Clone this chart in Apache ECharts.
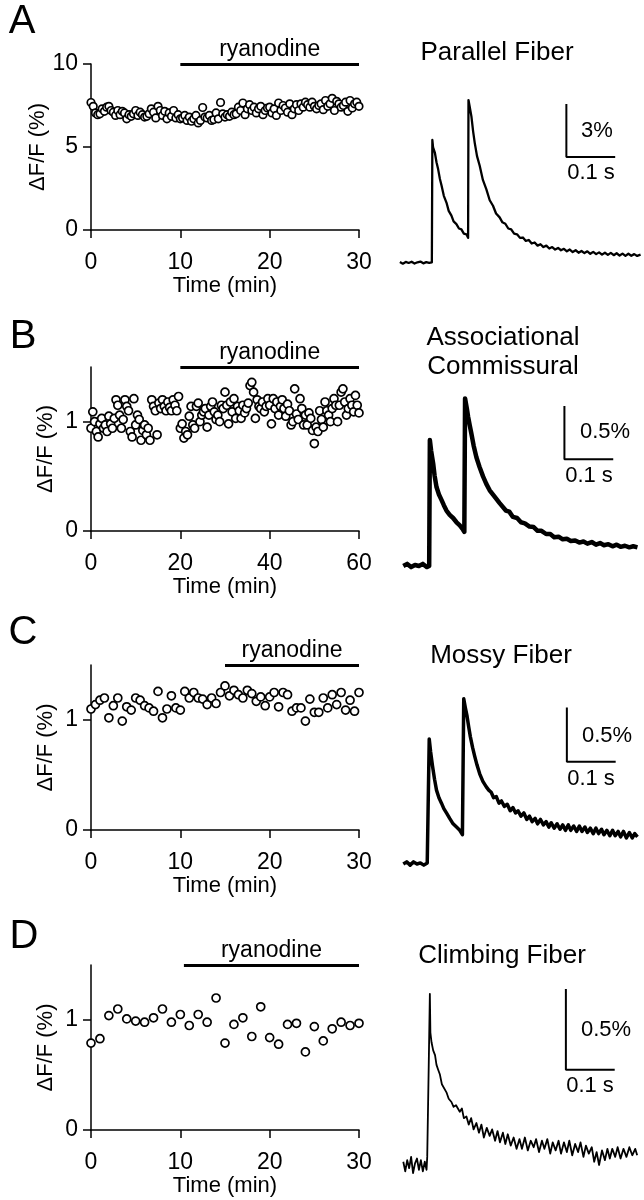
<!DOCTYPE html>
<html>
<head>
<meta charset="utf-8">
<script src="https://cdn.jsdelivr.net/npm/echarts@6/dist/echarts.min.js"></script>
<style>
  html, body { margin: 0; padding: 0; background: #fff; }
  #main { width: 644px; height: 1200px; }
</style>
</head>
<body>
<div id="main"></div>
<script>
const FONT = '"Liberation Sans", Arial, Helvetica, sans-serif';

// time course, dF/F (%) sampled every dt minutes
const dtA = 0.25;
const valuesA = [
  7.68, 7.45, 7.05, 6.95, 7.0, 7.3, 7.15, 7.4, 7.45, 7.2, 7.1, 6.9,
  7.2, 6.95, 7.15, 7.05, 6.7, 6.95, 6.85, 7.0, 7.2, 6.9, 7.1, 6.95,
  6.8, 6.85, 7.0, 7.3, 7.1, 6.75, 7.45, 7.2, 6.9, 7.15, 6.7, 7.05,
  6.85, 7.2, 6.75, 6.95, 6.7, 6.75, 6.9, 6.6, 6.8, 6.55, 6.7, 6.9,
  6.45, 6.6, 7.38, 6.8, 6.75, 6.9, 6.6, 6.65, 7.05, 6.7, 7.68, 7.0,
  6.8, 6.95, 6.85, 7.1, 6.95, 7.0, 7.4, 7.2, 7.65, 6.95, 7.3, 7.55,
  7.2, 7.4, 7.05, 7.3, 7.45, 6.95, 7.2, 7.35, 7.4, 7.05, 7.3, 6.9,
  7.65, 7.2, 7.5, 7.35, 7.1, 7.6, 6.95, 7.3, 7.55, 7.2, 7.6, 7.4,
  7.7, 7.55, 7.4, 7.7, 7.45, 7.3, 7.5, 7.6, 7.25, 7.8, 7.45, 7.6,
  7.93, 7.2, 7.75, 7.6, 7.4, 7.5, 7.7, 7.15, 7.8, 7.35, 7.6, 7.7,
  7.45
];

const dtB = 0.4;
const valuesB = [
  0.94, 1.09, 1.0, 0.91, 0.86, 0.98, 1.03, 0.94, 0.97, 0.91, 1.05, 0.98, 0.94,
  1.03, 1.2, 1.15, 1.06, 0.94, 1.02, 1.2, 1.14, 1.1, 0.91, 0.86, 1.21,
  0.97, 1.06, 1.02, 0.83, 0.92, 0.97, 0.88, 0.94, 0.83, 1.2, 1.14, 1.1, 0.88,
  1.17, 1.12, 1.2, 1.14, 1.1, 1.18, 1.13, 1.1, 1.2, 1.15, 1.1, 1.23,
  0.94, 0.98, 0.85, 0.91, 0.88, 1.05, 1.14, 0.97, 0.94, 1.14, 1.17, 1.0, 1.06,
  1.09, 1.12, 0.95, 1.06, 1.14, 1.18, 1.09, 1.02, 1.06, 1.0, 1.15, 1.12,
  1.27, 1.15, 0.98, 1.18, 1.09, 1.21, 1.03, 1.14, 1.1, 1.03, 1.15, 1.08, 1.12,
  1.17, 1.33, 1.36, 1.27, 1.03, 1.2, 1.14, 1.12, 1.18, 1.09, 1.14, 1.21,
  1.15, 0.98, 1.21, 1.12, 1.18, 1.06, 1.14, 1.2, 1.12, 1.05, 1.16, 1.1, 0.97,
  1.0, 1.3, 1.07, 1.02, 1.21, 1.12, 0.97, 1.06, 0.97, 1.08, 1.03, 0.92,
  0.8, 0.95, 0.91, 1.1, 1.02, 0.95, 1.18, 1.1, 1.06, 1.0, 1.12, 1.21, 1.15,
  1.0, 1.15, 1.27, 1.3, 1.18, 1.06, 1.12, 1.21, 1.15, 1.09, 1.24, 1.15, 1.08
];

const dtC = 0.5;
const valuesC = [
  1.10, 1.14, 1.18, 1.20, 1.02, 1.13, 1.20, 0.99, 1.12, 1.09,
  1.20, 1.18, 1.13, 1.11, 1.08, 1.26, 1.02, 1.10, 1.22, 1.11,
  1.09, 1.26, 1.20, 1.25, 1.20, 1.19, 1.14, 1.20, 1.15, 1.25,
  1.31, 1.22, 1.27, 1.23, 1.20, 1.27, 1.24, 1.17, 1.21, 1.13,
  1.21, 1.25, 1.12, 1.25, 1.23, 1.08, 1.11, 1.11, 0.99, 1.19,
  1.07, 1.07, 1.20, 1.11, 1.23, 1.14, 1.25, 1.09, 1.18, 1.08,
  1.25
];

const dtD = 1;
const valuesD = [
  0.79, 0.83, 1.04, 1.10, 1.01, 0.99, 0.98, 1.02, 1.10, 0.98,
  1.05, 0.95, 1.05, 0.98, 1.20, 0.79, 0.96, 1.02, 0.85, 1.12,
  0.84, 0.78, 0.96, 0.97, 0.71, 0.94, 0.81, 0.92, 0.98, 0.95,
  0.97
];

const timeMax = [30, 60, 30, 30];
const timeStep = [10, 20, 10, 10];
const ryanStart = [10, 20, 15, 10.4];
const ryanEnd = [30, 60, 30, 30];

// example traces: [time (ms), dF/F (%)]
const traceA = [
  [10,0.05],[16,-0.04],[22,0.06],[28,0.0],[34,0.07],[40,-0.03],[46,0.04],[52,0.08],[58,-0.02],[64,0.05],[70,0.01],[75.5,0.04],
  [76.5,6.96],[78,6.55],[81.6,6.25],[85,5.7],[88.4,5.3],[92,4.75],[95.2,4.4],[100,3.8],[105.4,3.42],[110,2.95],[115.6,2.68],
  [120,2.35],[125.8,2.2],[131,1.95],[136,1.9],[141,1.66],[146.3,1.62],[149.7,1.42],
  [150.5,9.22],[153,8.85],[156.5,8.3],[160,7.45],[163.3,6.8],[168,6.05],[173.5,5.5],[180,4.7],[187,4.18],[194,3.55],
  [200.7,3.24],[207,2.8],[214.3,2.58],[220,2.3],[226,2.22],[232,1.95],[238,1.9],[244,1.66],[250,1.62],[256,1.42],
  [262,1.44],[268,1.25],[274,1.3],[280,1.1],[286,1.16],[292,0.98],[298,1.06],[304,0.9],[310,0.98],[316,0.82],
  [322,0.9],[328,0.76],[334,0.85],[340,0.72],[346,0.8],[352,0.66],[358,0.76],[364,0.62],[370,0.72],[376,0.58],
  [382,0.68],[388,0.56],[394,0.66],[400,0.52],[406,0.63],[412,0.5],[418,0.6],[424,0.47],[430,0.58],[436,0.46],
  [442,0.57],[448,0.44],[454,0.55],[460,0.42],[466,0.53],[472,0.4],[478,0.52],[484,0.41],[490,0.5],[496,0.4],[503,0.47]
];
const traceB = [
  [17,0.0],[25,0.02],[33,-0.01],[41,0.01],[49,0.0],[57,0.02],[65,-0.01],[70,0.0],
  [71.4,1.18],[74,1.08],[78.2,0.96],[81,0.85],[85,0.74],[90,0.67],[95.2,0.62],[100,0.57],[105.4,0.52],[112,0.48],
  [119,0.45],[126,0.41],[132.7,0.38],[139.4,0.34],[142,0.32],
  [143.5,1.57],[147,1.48],[149.7,1.40],[153,1.32],[156.5,1.24],[161,1.13],[166.7,1.02],[173,0.93],[180.3,0.84],
  [187,0.77],[193.9,0.71],[204,0.65],[214.3,0.59],[227,0.52],[234,0.51],[241.5,0.46],[250,0.45],[258,0.41],
  [266,0.4],[275.5,0.37],[284,0.365],[292,0.33],[300,0.33],[309.5,0.3],[318,0.3],[326,0.27],[335,0.275],
  [343.5,0.25],[352,0.255],[360,0.235],[369,0.24],[377.6,0.22],[386,0.23],[394,0.21],[403,0.225],[411.6,0.2],
  [420,0.215],[428,0.195],[437,0.205],[445.6,0.185],[454,0.2],[462,0.18],[471,0.19],[480,0.175],[488,0.185],[496.6,0.175]
];
const traceC = [
  [17,0.0],[24,0.02],[31,-0.01],[38,0.02],[45,0.0],[52,0.01],[59,-0.01],[66,0.01],[69,0.0],
  [70.1,1.15],[73,1.03],[76.9,0.90],[81,0.78],[85,0.68],[90,0.61],[95.2,0.56],[100,0.51],[105.4,0.47],[112,0.42],
  [119,0.37],[126,0.34],[132.7,0.31],[138.1,0.27],[140,0.26],
  [140.8,1.52],[144,1.44],[147.6,1.36],[151,1.26],[154.4,1.17],[159,1.07],[163.3,0.99],[168,0.91],[173.5,0.83],
  [180,0.76],[187,0.71],[192,0.68],[197,0.66],[202,0.61],[207.5,0.62],[213,0.56],[218,0.58],[224,0.53],[230,0.55],
  [236,0.49],[241.5,0.52],[247,0.47],[252,0.49],[258,0.44],[264,0.47],[270,0.41],[275.5,0.44],[281,0.39],
  [287,0.42],[292,0.37],[298,0.41],[304,0.36],[309.5,0.39],[315,0.34],[320,0.38],[326,0.33],[332,0.37],
  [338,0.32],[343.5,0.36],[349,0.31],[355,0.36],[360,0.31],[366,0.35],[372,0.3],[377.6,0.35],[383,0.3],
  [389,0.34],[394,0.29],[400,0.33],[406,0.28],[411.6,0.33],[417,0.28],[423,0.32],[428,0.27],[434,0.31],
  [440,0.26],[445.6,0.31],[451,0.26],[457,0.3],[462,0.25],[468,0.3],[474,0.24],[480,0.29],[486,0.24],
  [491,0.28],[496.6,0.25]
];
const traceD = [
  [17,0.02],[21,-0.04],[25,0.03],[29,-0.02],[33,0.05],[37,-0.05],[41,0.01],[45,0.04],[49,-0.03],[53,0.03],
  [57,-0.04],[61,0.02],[64.6,-0.03],
  [66,0.05],[69,0.6],[71.4,1.06],[72.5,0.82],[74.8,0.76],[78.2,0.71],[82,0.68],[85,0.62],[88.4,0.59],[92,0.56],
  [96,0.5],[100,0.49],[105.4,0.45],[110,0.41],[115.6,0.39],[120,0.36],[125,0.37],[132.7,0.33],[137,0.35],[141,0.29],
  [146.3,0.30],[151,0.25],[156,0.29],[161,0.22],[166.7,0.26],[172,0.2],[177,0.25],[182,0.17],[188,0.23],[193.9,0.18],
  [199,0.22],[205,0.15],[210,0.21],[215,0.14],[221,0.2],[226,0.13],[231,0.19],[237,0.12],[243,0.17],[249,0.1],
  [255,0.16],[260,0.1],[266,0.17],[272,0.09],[278,0.15],[284,0.11],[289,0.16],[295,0.08],[301,0.15],[306,0.1],
  [312,0.16],[318,0.07],[323,0.14],[329,0.09],[335,0.15],[340,0.07],[346,0.14],[352,0.08],[357,0.15],[363,0.06],
  [369,0.13],[375,0.08],[380,0.14],[386,0.05],[391,0.12],[397,0.07],[403,0.11],[408,0.02],[413,0.08],[418,0.0],
  [424,0.09],[430,0.03],[435,0.1],[440,0.04],[445,0.1],[451,0.05],[456,0.11],[462,0.04],[468,0.1],[474,0.05],
  [480,0.11],[486,0.06],[492,0.1],[496,0.06]
];

const traceTitles = ['Parallel Fiber', 'Associational\nCommissural', 'Mossy Fiber', 'Climbing Fiber'];
const scaleAmp = [3, 0.5, 0.5, 0.5];
const scaleLabel = ['3%', '0.5%', '0.5%', '0.5%'];
const scaleStart = [[351, 6], [347, 1.0], [352, 0.94], [350, 0.59]];
const scaleDur = 100;

// layout (px)
const scatTop = [64, 367, 665, 965];
const scatH = [166, 164, 165, 165];
const traceTop = [86.3, 395.3, 690.1, 987.4];
const traceH = [185.5, 181.4, 184.8, 193.7];
const traceYMin = [-0.5, -0.1, -0.1, -0.1];
const traceYMax = [10, 1.6, 1.6, 1.1];
const traceWidth = [2.3, 4.5, 3.5, 1.8];
const letters = ['A', 'B', 'C', 'D'];
const letterPos = [[22, 22], [23, 337], [23, 633], [24, 937]];
const titlePos = [[497, 53], [503, 352], [501, 656], [502, 956]];
const ampLabelPos = [[597, 131], [605, 432], [607, 736], [606, 1030]];
const durLabelPos = [[591, 173], [589, 476], [591, 779], [590, 1086]];

const allValues = [valuesA, valuesB, valuesC, valuesD];
const allDt = [dtA, dtB, dtC, dtD];
const traces = [traceA, traceB, traceC, traceD];

const grid = [], xAxis = [], yAxis = [], series = [], graphic = [];

for (let i = 0; i < 4; i++) {
  // scatter panel
  grid.push({left: 91, top: scatTop[i], width: 268, height: scatH[i]});
  xAxis.push({
    type: 'value', gridIndex: grid.length - 1, min: 0, max: timeMax[i], interval: timeStep[i],
    name: 'Time (min)', nameLocation: 'middle', nameGap: 40,
    nameTextStyle: {fontFamily: FONT, fontSize: 22, color: '#000'},
    axisLine: {lineStyle: {color: '#000', width: 1.5}},
    axisTick: {length: 8, lineStyle: {color: '#000', width: 1.5}},
    axisLabel: {fontFamily: FONT, fontSize: 23, color: '#000', margin: 21},
    splitLine: {show: false}
  });
  const yA = {
    type: 'value', gridIndex: grid.length - 1, min: 0,
    name: '\u0394F/F (%)', nameLocation: 'middle', nameGap: 34,
    nameTextStyle: {fontFamily: FONT, fontSize: 22, color: '#000'},
    axisLine: {lineStyle: {color: '#000', width: 1.5}},
    axisTick: {length: 8, lineStyle: {color: '#000', width: 1.5}},
    axisLabel: {fontFamily: FONT, fontSize: 23, color: '#000', margin: 13},
    splitLine: {show: false}
  };
  if (i === 0) {
    yA.max = 10; yA.interval = 5;
  } else {
    yA.max = 1.5;
    yA.axisTick.customValues = [0, 1];
    yA.axisLabel.customValues = [0, 1];
  }
  yAxis.push(yA);
  const vals = allValues[i];
  const top = i === 0 ? 10 : 1.5;
  series.push({
    type: 'scatter', xAxisIndex: xAxis.length - 1, yAxisIndex: yAxis.length - 1,
    data: vals.map((v, k) => [k * allDt[i], v]),
    symbol: 'circle', symbolSize: i === 0 ? 7.5 : 8,
    itemStyle: {color: '#fff', borderColor: '#000', borderWidth: 1.7, opacity: 1},
    markLine: {
      silent: true, symbol: ['none', 'none'],
      lineStyle: {color: '#000', width: 3, type: 'solid'},
      label: {show: true, position: 'middle', formatter: 'ryanodine', fontFamily: FONT, fontSize: 23, color: '#000', distance: 3},
      data: [[{coord: [ryanStart[i], top]}, {coord: [ryanEnd[i], top]}]]
    }
  });

  // example trace panel
  grid.push({left: 395, top: traceTop[i], width: 250, height: traceH[i]});
  xAxis.push({type: 'value', gridIndex: grid.length - 1, min: 0, max: 510, show: false});
  yAxis.push({type: 'value', gridIndex: grid.length - 1, min: traceYMin[i], max: traceYMax[i], show: false});
  series.push({
    type: 'line', xAxisIndex: xAxis.length - 1, yAxisIndex: yAxis.length - 1,
    data: traces[i], showSymbol: false, symbol: 'none', sampling: null,
    lineStyle: {color: '#000', width: traceWidth[i], join: 'round'}
  });
  const s = scaleStart[i];
  series.push({
    type: 'line', xAxisIndex: xAxis.length - 1, yAxisIndex: yAxis.length - 1,
    data: [[s[0], s[1] + scaleAmp[i]], [s[0], s[1]], [s[0] + scaleDur, s[1]]],
    showSymbol: false, symbol: 'none',
    lineStyle: {color: '#000', width: 2}
  });

  graphic.push({type: 'text', x: letterPos[i][0], y: letterPos[i][1],
    style: {text: letters[i], font: '40px ' + FONT, fill: '#000', textAlign: 'center', textVerticalAlign: 'middle'}});
  graphic.push({type: 'text', x: titlePos[i][0], y: titlePos[i][1],
    style: {text: traceTitles[i], font: '26px ' + FONT, lineHeight: 29, fill: '#000', textAlign: 'center', textVerticalAlign: 'middle'}});
  graphic.push({type: 'text', x: ampLabelPos[i][0], y: ampLabelPos[i][1],
    style: {text: scaleLabel[i], font: '22px ' + FONT, fill: '#000', textAlign: 'center', textVerticalAlign: 'middle'}});
  graphic.push({type: 'text', x: durLabelPos[i][0], y: durLabelPos[i][1],
    style: {text: '0.1 s', font: '22px ' + FONT, fill: '#000', textAlign: 'center', textVerticalAlign: 'middle'}});
}

const chart = echarts.init(document.getElementById('main'), null, {renderer: 'canvas'});
chart.setOption({
  backgroundColor: '#fff',
  animation: false,
  grid: grid,
  xAxis: xAxis,
  yAxis: yAxis,
  series: series,
  graphic: graphic
});
</script>
</body>
</html>
